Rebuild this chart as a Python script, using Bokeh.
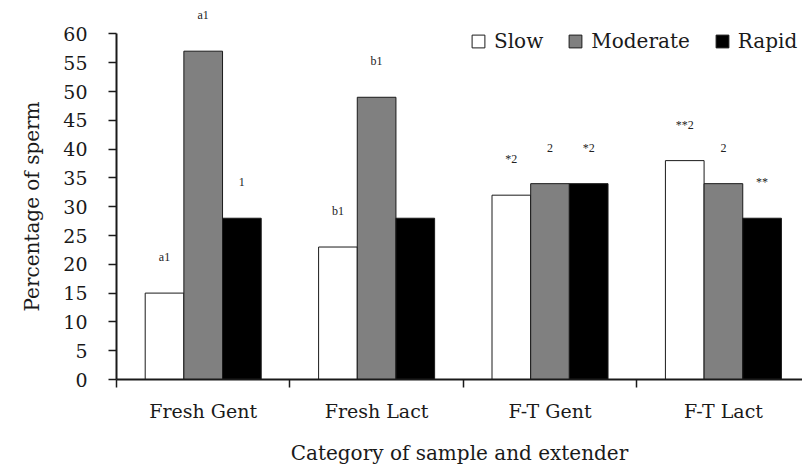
from bokeh.plotting import figure
from bokeh.models import ColumnDataSource, Range1d, FixedTicker, Legend, LegendItem, LabelSet, Title
from bokeh.transform import dodge
from bokeh.embed import file_html
from bokeh.resources import INLINE

# ---- data ----
categories = ["Fresh Gent", "Fresh Lact", "F-T Gent", "F-T Lact"]
slow = [15, 23, 32, 38]
moderate = [57, 49, 34, 34]
rapid = [28, 28, 34, 28]
slow_marks = ["a1", "b1", "*2", "**2"]
moderate_marks = ["a1", "b1", "2", "2"]
rapid_marks = ["1", "", "*2", "**"]
y_ticks = [0, 5, 10, 15, 20, 25, 30, 35, 40, 45, 50, 55, 60]

FONT = "DejaVu Serif"
INK = "#1a1a1a"

centers = [i + 0.5 for i in range(len(categories))]
boundaries = [float(i) for i in range(len(categories))]

src = ColumnDataSource(dict(
    pos=centers, slow=slow, moderate=moderate, rapid=rapid,
    slow_marks=slow_marks, moderate_marks=moderate_marks, rapid_marks=rapid_marks,
))

p = figure(width=802, height=467, output_backend="svg", toolbar_location=None,
           x_range=Range1d(0, 3.956), y_range=Range1d(0, 65.8),
           min_border_left=116, min_border_right=0, min_border_top=0, min_border_bottom=87)
p.outline_line_color = None
p.xgrid.visible = False
p.ygrid.visible = False
p.background_fill_color = "white"

w = 0.223
series = [("slow", "Slow", "white", -w), ("moderate", "Moderate", "#808080", 0.0), ("rapid", "Rapid", "black", w)]
items = []
for col, lab, color, off in series:
    r = p.vbar(x=dodge("pos", off, range=p.x_range), top=col, width=w, source=src,
               fill_color=color, line_color=INK, line_width=1)
    items.append(LegendItem(label=lab, renderers=[r]))
    labels = LabelSet(x=dodge("pos", off, range=p.x_range), y=col, text=col + "_marks", source=src,
                      text_align="center", text_baseline="middle", y_offset=36,
                      text_font=FONT, text_font_size="12px", text_color="#222222")
    p.add_layout(labels)

legend = Legend(items=items, location=(354, 326), orientation="horizontal",
                glyph_width=16, glyph_height=16, label_standoff=8, spacing=24,
                padding=0, margin=0, border_line_color=None, background_fill_alpha=0,
                label_text_font=FONT, label_text_font_size="20px", label_text_color=INK)
p.add_layout(legend)

# x axis
xa = p.xaxis[0]
xa.ticker = FixedTicker(ticks=centers, minor_ticks=boundaries)
xa.major_label_overrides = {c: name for c, name in zip(centers, categories)}
xa.major_tick_line_color = None
xa.major_tick_out = 8
xa.major_tick_in = 0
xa.minor_tick_out = 8
xa.minor_tick_in = 0
xa.minor_tick_line_color = INK
xa.minor_tick_line_width = 1.5
xa.axis_line_width = 2
xa.axis_line_color = INK
xa.major_label_text_font = FONT
xa.major_label_text_font_size = "19px"
xa.major_label_text_color = INK
xa.major_label_standoff = 12
xa.axis_label = "Category of sample and extender"
xa.axis_label_text_font = FONT
xa.axis_label_text_font_size = "20px"
xa.axis_label_text_font_style = "normal"
xa.axis_label_text_color = INK
xa.axis_label_standoff = 16

# y axis
ya = p.yaxis[0]
ya.bounds = (0, 60)
ya.ticker = FixedTicker(ticks=y_ticks)
ya.minor_tick_line_color = None
ya.major_tick_out = 8
ya.major_tick_in = 0
ya.major_tick_line_width = 1.5
ya.major_tick_line_color = INK
ya.axis_line_width = 2
ya.axis_line_color = INK
ya.major_label_text_font = FONT
ya.major_label_text_font_size = "19px"
ya.major_label_text_color = INK
ya.major_label_standoff = 21

# y-axis title, aligned to the 0..60 part of the axis
ytitle = Title(text="Percentage of sperm", align="left", offset=68,
               text_font=FONT, text_font_size="20px", text_font_style="normal",
               text_color=INK)
if hasattr(ytitle, "standoff"):
    ytitle.standoff = 34
p.add_layout(ytitle, "left")

open("out.html", "w").write(file_html(p, INLINE))
